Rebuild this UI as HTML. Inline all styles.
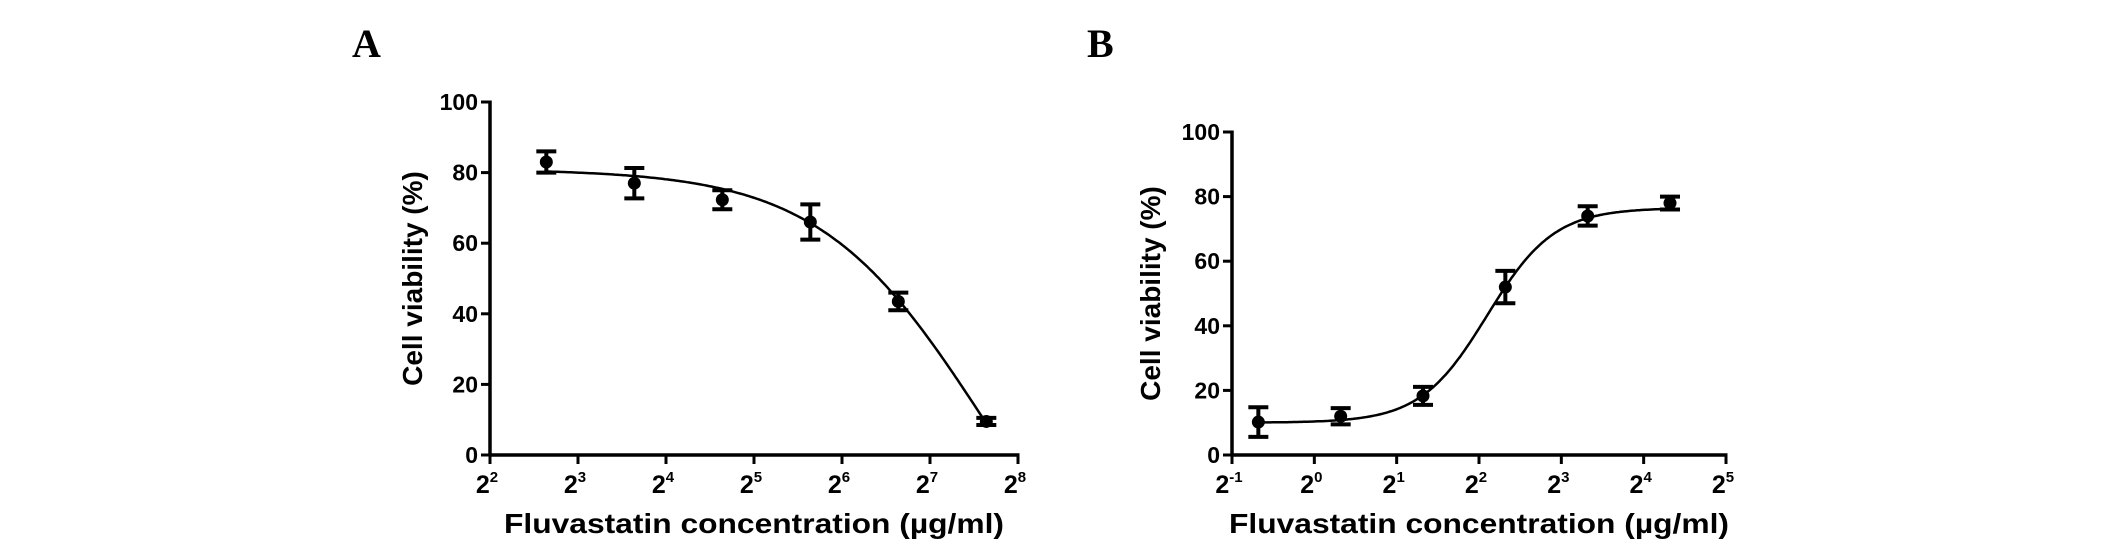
<!DOCTYPE html>
<html><head><meta charset="utf-8"><style>
html,body{margin:0;padding:0;background:#fff;}
svg{display:block;font-family:"Liberation Sans",Arial,sans-serif;}
</style></head><body>
<svg id="fig" width="2126" height="552" viewBox="0 0 2126 552" xmlns="http://www.w3.org/2000/svg">
<text x="352" y="57" font-family="Liberation Serif,serif" font-weight="bold" font-size="40">A</text>
<text x="1087" y="57" font-family="Liberation Serif,serif" font-weight="bold" font-size="40">B</text>
</svg>
<script>
// Panel A data
const aLogX = [2.64, 3.64, 4.64, 5.64, 6.64, 7.64];
const aY = [83, 77, 72.3, 66, 43.5, 9.5];
const aErr = [3, 4.3, 2.7, 5, 2.5, 1];
const aXTicks = [2,3,4,5,6,7,8];
const aYTicks = [0,20,40,60,80,100];
// Panel B data
const bLogX = [-0.68, 0.32, 1.32, 2.32, 3.32, 4.32];
const bY = [10.2, 12, 18.3, 52, 74, 78];
const bErr = [4.6, 2.5, 2.8, 5, 3, 2];
const bXTicks = [-1,0,1,2,3,4,5];
const bYTicks = [0,20,40,60,80,100];

const NS='http://www.w3.org/2000/svg';
const svg=document.getElementById('fig');
function mk(tag,attrs,parent){const e=document.createElementNS(NS,tag);for(const k in attrs)e.setAttribute(k,attrs[k]);(parent||svg).appendChild(e);return e;}

function panel(id,cfg,lx,ly,le,xt,yt,curve){
  const g=mk('g',{});
  
  
  const X=v=>cfg.x0+(v-xt[0])*(cfg.x1-cfg.x0)/(xt[xt.length-1]-xt[0]);
  const Y=v=>cfg.y0-(v-yt[0])*(cfg.y0-cfg.y1)/(yt[yt.length-1]-yt[0]);
  const ya=mk('line',{x1:cfg.x0,y1:cfg.y1-1.5,x2:cfg.x0,y2:cfg.y0+1.5,stroke:'#000','stroke-width':3.5},g);
  
  const xa=mk('line',{x1:cfg.x0-1.5,y1:cfg.y0,x2:cfg.x1+1.5,y2:cfg.y0,stroke:'#000','stroke-width':3.5},g);
  
  yt.forEach(v=>{
    const t=mk('line',{x1:cfg.x0-9,y1:Y(v),x2:cfg.x0,y2:Y(v),stroke:'#000','stroke-width':3},g);
    
    const l=mk('text',{x:cfg.x0-12,y:Y(v)+8,'text-anchor':'end','font-size':23,'font-weight':'bold'},g);
    
    l.textContent=v;
  });
  xt.forEach(v=>{
    const t=mk('line',{x1:X(v),y1:cfg.y0,x2:X(v),y2:cfg.y0+9,stroke:'#000','stroke-width':3},g);
    
    const l=mk('text',{x:X(v)-3,y:cfg.y0+38,'text-anchor':'middle','font-size':25,'font-weight':'bold'},g);
    
    l.textContent='2';
    const s=mk('tspan',{'font-size':15,dy:-11},l);
    s.textContent=v;
  });
  let d='';
  const lo=lx[0],hi=lx[lx.length-1];
  for(let i=0;i<=200;i++){const l=lo+(hi-lo)*i/200;d+=(i?'L':'M')+X(l).toFixed(1)+','+Y(curve(l)).toFixed(1);}
  const c=mk('path',{d:d,fill:'none',stroke:'#000','stroke-width':2.5},g);
  
  lx.forEach((v,i)=>{
    const x=X(v),yt_=Y(ly[i]+le[i]),yb=Y(ly[i]-le[i]);
    const eb=mk('path',{d:`M${x-10},${yt_}H${x+10}M${x},${yt_}V${yb}M${x-10},${yb}H${x+10}`,stroke:'#000','stroke-width':4,fill:'none'},g);
    
    const p=mk('circle',{cx:x,cy:Y(ly[i]),r:6.5,fill:'#000'},g);
    
  });
  const xtitle=mk('text',{x:(cfg.x0+cfg.x1)/2,y:533,'text-anchor':'middle','font-size':28,'font-weight':'bold',textLength:500,lengthAdjust:'spacingAndGlyphs'},g);
  
  xtitle.textContent='Fluvastatin concentration (\u00b5g/ml)';
  const cy=(cfg.y0+cfg.y1)/2;
  const ytitle=mk('text',{x:cfg.tx,y:cy,'text-anchor':'middle','font-size':28,'font-weight':'bold',transform:`rotate(-90 ${cfg.tx} ${cy})`,dy:10},g);
  
  ytitle.textContent='Cell viability (%)';
}
panel('panel-a',{x0:490,x1:1018,y0:455,y1:102,tx:412},aLogX,aY,aErr,aXTicks,aYTicks,
  l=>-60+141/(1+Math.pow(2,(l-7.6)*1.55)));
panel('panel-b',{x0:1232,x1:1726,y0:455,y1:132,tx:1150},bLogX,bY,bErr,bXTicks,bYTicks,
  l=>10+66.5/(1+Math.pow(2,(2.10-l)*3.55)));
</script>
</body></html>
